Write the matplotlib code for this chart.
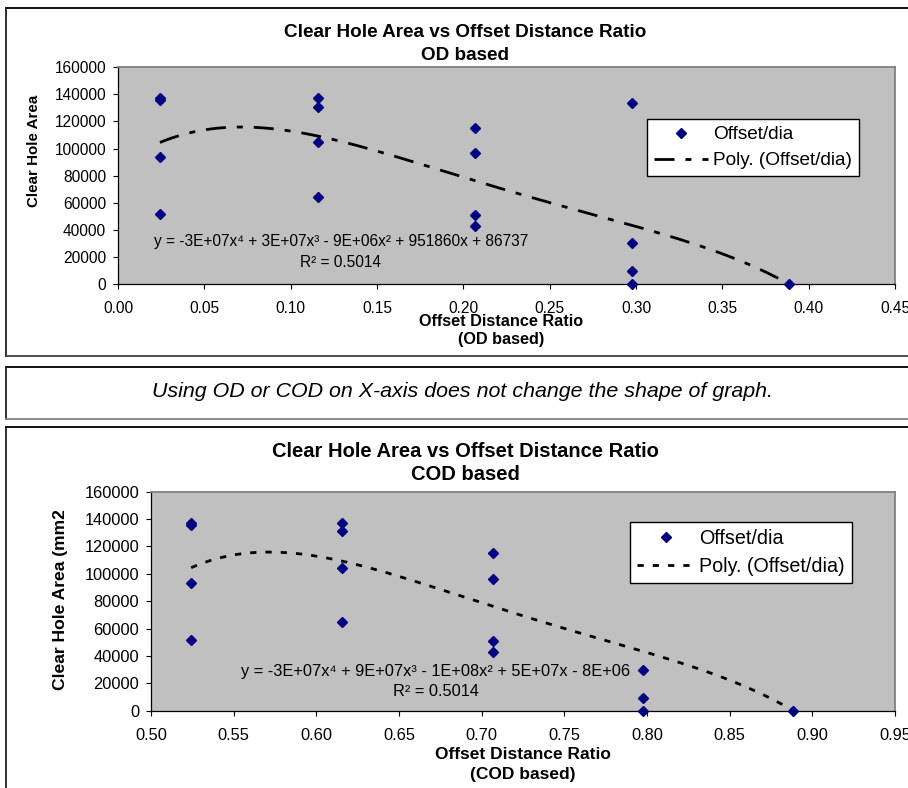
import numpy as np
import matplotlib
matplotlib.use("Agg")
import matplotlib.pyplot as plt
from matplotlib.lines import Line2D

plt.rcParams['font.family'] = ['Liberation Sans', 'DejaVu Sans']
plt.rcParams['lines.scale_dashes'] = False

# Offset distance ratio of each test group, on OD and on COD basis
od_levels = [0.0243, 0.1156, 0.2066, 0.2975, 0.3886]
cod_levels = [0.5243, 0.6156, 0.7066, 0.7975, 0.8886]

# Clear hole area measured in each group
area_groups = [
    [137000, 136000, 93500, 51500],
    [137000, 131000, 104600, 64500],
    [115200, 96500, 50900, 42600],
    [133900, 30000, 9600, 0],
    [0],
]

y_ticks = [0, 20000, 40000, 60000, 80000, 100000, 120000, 140000, 160000]
od_ticks = [0.00, 0.05, 0.10, 0.15, 0.20, 0.25, 0.30, 0.35, 0.40, 0.45]
cod_ticks = [0.50, 0.55, 0.60, 0.65, 0.70, 0.75, 0.80, 0.85, 0.90, 0.95]

title = "Clear Hole Area vs Offset Distance Ratio"
caption = "Using OD or COD on X-axis does not change the shape of graph."
eq_od = "y = -3E+07x\u2074 + 3E+07x\u00b3 - 9E+06x\u00b2 + 951860x + 86737"
eq_cod = "y = -3E+07x\u2074 + 9E+07x\u00b3 - 1E+08x\u00b2 + 5E+07x - 8E+06"
r2_text = "R\u00b2 = 0.5014"

W, H = 908, 788
fig = plt.figure(figsize=(W / 100, H / 100), dpi=100)
fig.patch.set_facecolor("white")


def fx(px):
    return px / W


def fy(py):
    return 1 - py / H


def hline(y, x0, x1, color, lw):
    fig.add_artist(Line2D([fx(x0), fx(x1)], [fy(y), fy(y)], color=color, lw=lw,
                          transform=fig.transFigure))


def vline(x, y0, y1, color, lw):
    fig.add_artist(Line2D([fx(x), fx(x)], [fy(y0), fy(y1)], color=color, lw=lw,
                          transform=fig.transFigure))


# Panel frames
hline(8.3, 5.7, 920, "black", 1.3)
vline(5.7, 8.3, 356.5, "#202020", 1.3)
hline(356.5, 5.7, 920, "#404040", 1.3)

hline(367, 5.7, 920, "black", 1.3)
vline(5.7, 367, 418.5, "#202020", 1.3)
hline(418.5, 5.7, 920, "#808080", 1.3)

hline(427.5, 5.7, 920, "black", 1.3)
vline(5.7, 427.5, 800, "#202020", 1.3)

fig.text(fx(463), fy(392), caption, ha="center", va="center",
         fontsize=15.4, style="italic", color="black")


def make_panel(rect, levels, ticks, sub, ylab, eq, eq_pos, r2_pos, fs, line_dash,
               leg_anchor, leg_fs, leg_space, title_base, xlab_base, ylab_x, ylab_y, fonts):
    left, top, right, bottom = rect
    ax = fig.add_axes([fx(left), fy(bottom), fx(right) - fx(left), (bottom - top) / H])
    ax.set_facecolor("#C0C0C0")

    xs = np.concatenate([[lv] * len(g) for lv, g in zip(levels, area_groups)])
    ys = np.concatenate(area_groups)

    ax.plot(xs, ys, ls="none", marker="D", ms=5.2, color="#000080",
            mec="#000080", label="Offset/dia", zorder=3, clip_on=False)

    coef = np.polyfit(xs, ys, 4)
    xx = np.linspace(xs.min(), xs.max(), 300)
    ax.plot(xx, np.polyval(coef, xx), color="black", lw=2.0,
            ls=(0, line_dash), dash_capstyle="butt",
            label="Poly. (Offset/dia)", zorder=2)

    ax.set_xlim(ticks[0], ticks[-1])
    ax.set_ylim(0, 160000)
    ax.set_xticks(ticks)
    ax.set_xticklabels([f"{t:.2f}" for t in ticks])
    ax.set_yticks(y_ticks)
    ax.set_yticklabels([f"{t:d}" for t in y_ticks])

    for s in ("left", "bottom"):
        ax.spines[s].set_color("black")
        ax.spines[s].set_linewidth(0.9)
    for s in ("top", "right"):
        ax.spines[s].set_color("#808080")
        ax.spines[s].set_linewidth(1.3)
    ax.tick_params(axis="both", direction="out", length=3.6, width=0.8,
                   colors="black", labelsize=fs)
    ax.tick_params(axis="y", pad=5)
    ax.tick_params(axis="x", pad=8.5)

    leg = ax.legend(loc="upper left", bbox_to_anchor=(fx(leg_anchor[0]), fy(leg_anchor[1])),
                    bbox_transform=fig.transFigure, borderaxespad=0, fontsize=leg_fs,
                    frameon=True, fancybox=False, edgecolor="black", facecolor="white",
                    framealpha=1, numpoints=1, handlelength=2.85, handletextpad=0.28,
                    borderpad=0.36, labelspacing=leg_space)
    leg.get_frame().set_linewidth(1.0)
    leg.set_zorder(5)

    tfs, xfs, yfs = fonts
    fig.text(fx(465), fy(title_base[0]), title, ha="center", va="baseline",
             fontsize=tfs, fontweight="bold")
    fig.text(fx(465), fy(title_base[1]), sub, ha="center", va="baseline",
             fontsize=tfs, fontweight="bold")
    fig.text(fx(xlab_base[2]), fy(xlab_base[0]), "Offset Distance Ratio", ha="center",
             va="baseline", fontsize=xfs, fontweight="bold")
    fig.text(fx(xlab_base[2]), fy(xlab_base[1]), f"({sub})", ha="center",
             va="baseline", fontsize=xfs, fontweight="bold")
    fig.text(fx(ylab_x), fy(ylab_y), ylab, ha="center", va="center", rotation=90,
             fontsize=yfs, fontweight="bold")

    fig.text(fx(eq_pos[0]), fy(eq_pos[1]), eq, ha="center", va="baseline", fontsize=fs)
    fig.text(fx(r2_pos[0]), fy(r2_pos[1]), r2_text, ha="center", va="baseline", fontsize=fs)
    return ax


make_panel((118, 67.3, 895, 284), od_levels, od_ticks, "OD based", "Clear Hole Area",
           eq_od, (341, 245.7), (341, 266.7), 11.2, (14.4, 7.9, 4.3, 7.9),
           (646.7, 119.3), 13.7, 0.45, (37, 60), (326, 344, 501), 34, 151,
           (13.6, 11.7, 10.9))

make_panel((151, 491.7, 895, 710.7), cod_levels, cod_ticks, "COD based",
           "Clear Hole Area (mm2", eq_cod, (436, 675.7), (436, 695.7), 11.8,
           (4.5, 6.5), (630.3, 521.7), 14.2, 0.45, (456.7, 480), (759, 779, 523), 60.5, 600,
           (14.5, 12.5, 12.6))

fig.savefig("out.png", dpi=100, facecolor="white")
